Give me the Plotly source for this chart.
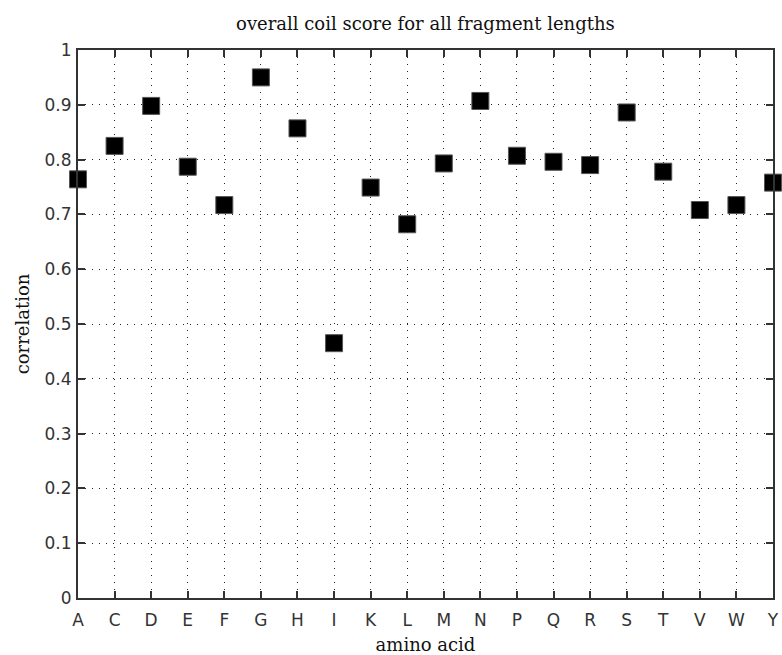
import plotly.graph_objects as go

amino_acids = ["A", "C", "D", "E", "F", "G", "H", "I", "K", "L",
               "M", "N", "P", "Q", "R", "S", "T", "V", "W", "Y"]
correlation = [0.764, 0.825, 0.898, 0.787, 0.717, 0.950, 0.857, 0.465, 0.749, 0.682,
               0.793, 0.907, 0.807, 0.796, 0.790, 0.886, 0.778, 0.708, 0.717, 0.758]
y_ticks = [0, 0.1, 0.2, 0.3, 0.4, 0.5, 0.6, 0.7, 0.8, 0.9, 1]
y_ticktext = ["0", "0.1", "0.2", "0.3", "0.4", "0.5", "0.6", "0.7", "0.8", "0.9", "1"]

fig = go.Figure()
fig.add_trace(go.Scatter(
    x=amino_acids, y=correlation, mode="markers",
    marker=dict(symbol="square", size=17, color="black",
                line=dict(width=1, color="#555555")),
    showlegend=False, cliponaxis=False,
))

tick_font = dict(family="DejaVu Sans, sans-serif", size=17, color="#333333")
serif = dict(family="DejaVu Serif, serif", size=18, color="#111111")

fig.update_layout(
    width=782, height=655,
    margin=dict(l=78, r=9, t=50, b=57),
    paper_bgcolor="white", plot_bgcolor="white",
    title=dict(text="overall coil score for all fragment lengths", font=serif,
               x=0.544, xanchor="center", y=1 - 24 / 655, yanchor="middle"),
)
grid = dict(showgrid=True, gridcolor="#222222", griddash="1px,6px", gridwidth=1.2,
            showline=True, linecolor="#333333", linewidth=2, mirror="ticks",
            ticks="inside", ticklen=7, tickcolor="#333333", tickwidth=2,
            tickfont=tick_font, zeroline=False, automargin=False)
fig.update_xaxes(
    type="category", categoryorder="array", categoryarray=amino_acids,
    range=[0, 19], ticklabelstandoff=6,
    title=dict(text="amino acid", font=serif, standoff=13),
    **grid,
)
fig.update_yaxes(
    range=[0, 1], tickvals=y_ticks, ticktext=y_ticktext, ticklabelstandoff=1,
    title=dict(text="correlation", font=serif, standoff=10),
    **grid,
)

fig.write_html("out.html")
